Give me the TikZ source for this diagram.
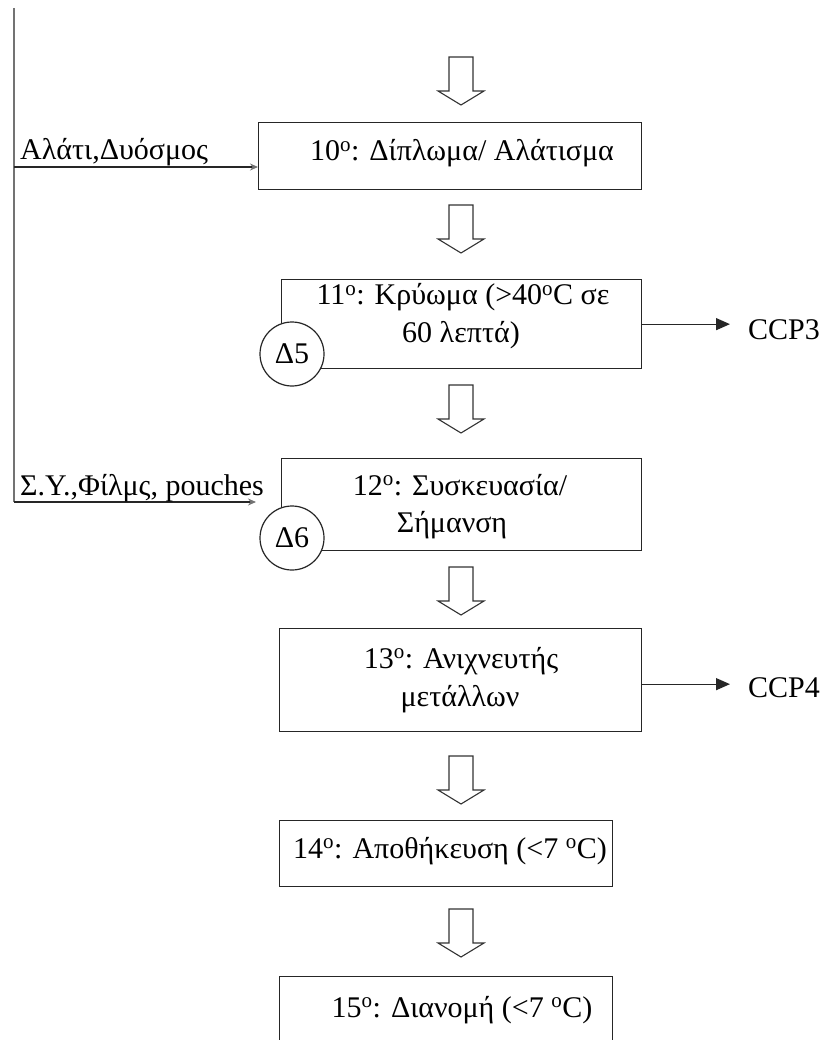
\documentclass[tikz,border=0pt]{standalone}
\usepackage{fontspec}
\setmainfont{Liberation Serif}
\usetikzlibrary{arrows.meta}
\begin{document}
\begin{tikzpicture}[x=1pt,y=-1pt,
  txt/.style={anchor=base, inner sep=0pt, font=\fontsize{30}{37}\selectfont},
  box/.style={draw=black!85, line width=1.3pt, rectangle, anchor=north west, inner sep=0pt},
  circ/.style={draw=black!85, line width=1.2pt, circle, fill=white, minimum size=64pt,
               inner sep=0pt, font=\fontsize{30}{37}\selectfont},
  vline/.style={draw=black!55, line width=1.6pt},
  feed/.style={draw=black!85, line width=1.3pt, -{Stealth[length=8pt,width=7pt,color=black!55]}},
  ccp/.style={draw=black!85, line width=1.3pt, -{Triangle[length=14pt,width=12pt]}},
  hollow/.pic={\draw[line width=1.1pt, draw=black!80, fill=white, line join=miter]
     (-12,0) -- (12,0) -- (12,34) -- (23,34) -- (0,48) -- (-23,34) -- (-12,34) -- cycle;}
]
\useasboundingbox (0,0) rectangle (827,1040);
\clip (0,0) rectangle (827,1040);

% process steps
\node[box, minimum width=383pt, minimum height=67pt] (b10) at (258,122) {};
\node[box, minimum width=360pt, minimum height=89pt] (b11) at (281,279) {};
\node[box, minimum width=360pt, minimum height=92pt] (b12) at (281,458) {};
\node[box, minimum width=362pt, minimum height=103pt] (b13) at (279,628) {};
\node[box, minimum width=333pt, minimum height=66pt] (b14) at (279,820) {};
\node[box, minimum width=333pt, minimum height=90pt] (b15) at (279,976) {};

\node[txt] (t10)  at (462,161) {10\textsuperscript{o}: Δίπλωμα/ Αλάτισμα};
\node[txt] (t11a) at (463,305) {11\textsuperscript{o}: Κρύωμα (>40\textsuperscript{o}C σε};
\node[txt] (t11b) at (461,342) {60 λεπτά)};
\node[txt] (t12a) at (460,495) {12\textsuperscript{o}: Συσκευασία/};
\node[txt] (t12b) at (452,532) {Σήμανση};
\node[txt] (t13a) at (461,668) {13\textsuperscript{o}: Ανιχνευτής};
\node[txt] (t13b) at (460,706) {μετάλλων};
\node[txt] (t14)  at (450,858) {14\textsuperscript{o}: Αποθήκευση (<7 \textsuperscript{o}C)};
\node[txt] (t15)  at (462,1017) {15\textsuperscript{o}: Διανομή (<7 \textsuperscript{o}C)};

% hazard markers
\node[circ] (d5) at (292,354) {Δ5};
\node[circ] (d6) at (292,538) {Δ6};

% flow arrows between steps
\pic (h1) at (461,57)  {hollow};
\pic (h2) at (461,205) {hollow};
\pic (h3) at (461,385) {hollow};
\pic (h4) at (461,567) {hollow};
\pic (h5) at (461,756) {hollow};
\pic (h6) at (461,909) {hollow};

% material inputs
\coordinate (top) at (14,8);
\coordinate (j1) at (14,167);
\coordinate (j2) at (14,502);
\coordinate (e2) at (256,502);
\draw[vline] (top) -- (j2);
\draw[feed] (j1) -- (j1 -| b10.west);
\draw[feed] (j2) -- (e2);
\node[txt, anchor=base west] (in1) at (20,160) {Αλάτι,Δυόσμος};
\node[txt, anchor=base west] (in2) at (20,495) {Σ.Υ.,Φίλμς, pouches};

% critical control points
\node[txt, anchor=west] (ccp3) at (748,330) {CCP3};
\node[txt, anchor=west] (ccp4) at (748,688) {CCP4};
\draw[ccp, shorten >=18pt] (b11.east) -- (b11.east -| ccp3.west);
\draw[ccp, shorten >=18pt] ([yshift=-4pt]b13.east) -- ([yshift=-4pt]b13.east -| ccp4.west);
\end{tikzpicture}
\end{document}
